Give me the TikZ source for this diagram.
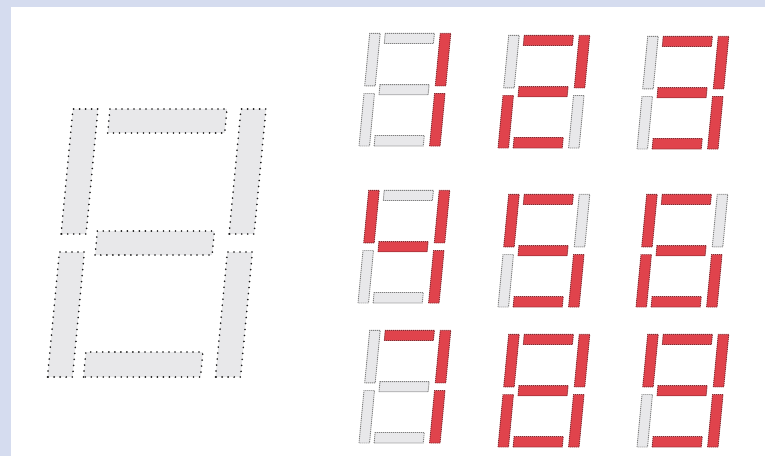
\documentclass[tikz,border=0pt]{standalone}
\usepackage{tikz}
\definecolor{bgblue}{HTML}{D5DCEF}
\definecolor{seggray}{HTML}{E8E8EA}
\definecolor{segred}{HTML}{E0434C}

% one seven segment digit: origin, scale, then styles of a b c d e f g
\newcommand{\sevenseg}[9]{%
  \begin{scope}[shift={#1}, scale=#2, xslant=0.095]
    \path[#3] (37,244) rectangle (154,268); % a
    \path[#4] (168,143) rectangle (193,268); % b
    \path[#5] (168,0) rectangle (193,125); % c
    \path[#6] (36,0) rectangle (153,25); % d
    \path[#7] (0,0) rectangle (25,125); % e
    \path[#8] (0,143) rectangle (25,268); % f
    \path[#9] (36,122) rectangle (153,146); % g
  \end{scope}}

\begin{document}
\begin{tikzpicture}[x=1pt, y=1pt,
    bigseg/.style={fill=seggray, draw=black!90, line width=1.8pt, line cap=round, dash pattern=on 0.01pt off 6pt},
    off/.style={fill=seggray, draw=black!50, line width=0.9pt, dash pattern=on 1.2pt off 0.8pt},
    on/.style={fill=segred, draw=segred!60!black, line width=0.9pt, dash pattern=on 1.2pt off 0.8pt}]
  \useasboundingbox (0,0) rectangle (765,456);
  \fill[bgblue] (0,0) rectangle (765,456);
  \fill[white] (11,0) rectangle (765,449);

  % large digit, all segments dark
  \sevenseg{(47.5,79)}{1}{bigseg}{bigseg}{bigseg}{bigseg}{bigseg}{bigseg}{bigseg}

  % digits 1 to 9
  \sevenseg{(359,310)}{0.42}{off}{on}{on}{off}{off}{off}{off}
  \sevenseg{(498,308)}{0.42}{on}{on}{off}{on}{on}{off}{on}
  \sevenseg{(637,307)}{0.42}{on}{on}{on}{on}{off}{off}{on}
  \sevenseg{(358,153)}{0.42}{off}{on}{on}{off}{off}{on}{on}
  \sevenseg{(498,149)}{0.42}{on}{off}{on}{on}{off}{on}{on}
  \sevenseg{(636,149)}{0.42}{on}{off}{on}{on}{on}{on}{on}
  \sevenseg{(359,13)}{0.42}{on}{on}{on}{off}{off}{off}{off}
  \sevenseg{(498,9)}{0.42}{on}{on}{on}{on}{on}{on}{on}
  \sevenseg{(637,9)}{0.42}{on}{on}{on}{on}{off}{on}{on}
\end{tikzpicture}
\end{document}
